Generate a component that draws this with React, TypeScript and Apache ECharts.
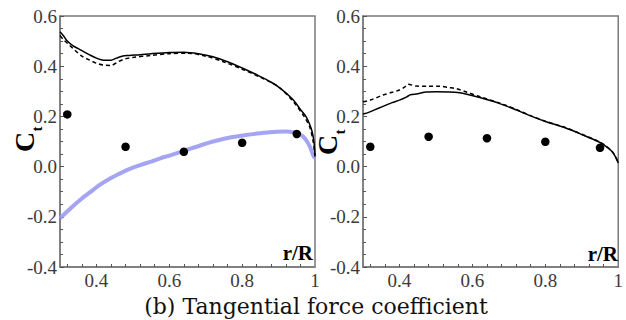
import React, { useEffect, useRef } from "react";
import * as echarts from "echarts";

// radial stations of the measured points (r/R)
const stations = [0.32, 0.48, 0.64, 0.8, 0.95];
const leftMeasured = [0.208, 0.079, 0.059, 0.095, 0.13];
const rightMeasured = [0.079, 0.119, 0.113, 0.099, 0.075];

const leftSolid: number[][] = [
  [0.3, 0.537], [0.31, 0.52], [0.32, 0.5], [0.335, 0.482], [0.35, 0.47], [0.365, 0.458],
  [0.38, 0.446], [0.4, 0.432], [0.42, 0.424], [0.44, 0.424], [0.455, 0.432], [0.47, 0.44],
  [0.49, 0.443], [0.52, 0.446], [0.55, 0.45], [0.6, 0.455], [0.64, 0.456], [0.68, 0.45],
  [0.72, 0.438], [0.76, 0.418], [0.8, 0.393], [0.84, 0.366], [0.88, 0.336], [0.91, 0.306],
  [0.94, 0.266], [0.96, 0.228], [0.975, 0.2], [0.985, 0.17], [0.992, 0.14], [0.997, 0.1], [1.0, 0.045],
];
const leftDashed: number[][] = [
  [0.3, 0.522], [0.31, 0.505], [0.325, 0.485], [0.34, 0.465], [0.36, 0.44], [0.38, 0.425],
  [0.4, 0.412], [0.42, 0.404], [0.44, 0.403], [0.46, 0.418], [0.48, 0.43], [0.5, 0.435],
  [0.55, 0.443], [0.6, 0.45], [0.65, 0.452], [0.7, 0.44], [0.75, 0.417], [0.8, 0.388],
  [0.85, 0.356], [0.9, 0.318], [0.94, 0.26], [0.97, 0.2], [0.985, 0.16], [0.995, 0.1], [1.0, 0.04],
];
const leftBlue: number[][] = [
  [0.3, -0.206], [0.33, -0.165], [0.355, -0.133], [0.38, -0.105], [0.41, -0.072], [0.44, -0.045],
  [0.465, -0.027], [0.49, -0.01], [0.52, 0.006], [0.55, 0.02], [0.575, 0.033], [0.6, 0.044],
  [0.63, 0.058], [0.67, 0.077], [0.72, 0.1], [0.77, 0.117], [0.81, 0.126], [0.85, 0.133],
  [0.895, 0.139], [0.92, 0.14], [0.94, 0.137], [0.955, 0.13], [0.968, 0.119], [0.978, 0.1],
  [0.986, 0.079], [0.995, 0.045], [1.0, 0.035],
];
const rightSolid: number[][] = [
  [0.3, 0.21], [0.31, 0.213], [0.33, 0.225], [0.355, 0.24], [0.38, 0.255], [0.4, 0.265],
  [0.42, 0.278], [0.43, 0.286], [0.45, 0.29], [0.473, 0.297], [0.5, 0.298], [0.537, 0.297],
  [0.56, 0.295], [0.582, 0.289], [0.62, 0.275], [0.673, 0.252], [0.72, 0.226], [0.763, 0.2],
  [0.8, 0.18], [0.856, 0.154], [0.9, 0.128], [0.946, 0.099], [0.965, 0.082], [0.981, 0.063],
  [0.992, 0.04], [1.0, 0.015],
];
const rightDashed: number[][] = [
  [0.3, 0.258], [0.32, 0.265], [0.355, 0.285], [0.38, 0.296], [0.4, 0.305], [0.415, 0.318],
  [0.423, 0.328], [0.446, 0.321], [0.48, 0.32], [0.51, 0.32], [0.535, 0.315], [0.555, 0.311],
  [0.582, 0.298], [0.62, 0.279], [0.673, 0.254], [0.72, 0.228], [0.763, 0.201], [0.8, 0.181],
  [0.856, 0.155], [0.9, 0.129], [0.946, 0.1], [0.965, 0.083], [0.981, 0.064], [0.992, 0.041], [1.0, 0.016],
];

const xLabels = [0.4, 0.6, 0.8, 1];
const xTicks = [0.32, 0.36, 0.4, 0.44, 0.48, 0.52, 0.56, 0.6, 0.64, 0.68, 0.72, 0.76, 0.8, 0.84, 0.88, 0.92, 0.96];
const caption = "(b) Tangential force coefficient";

const SERIF = "'Liberation Serif', 'Times New Roman', Times, serif";
const FRAME = "#7a7a7a";

function xAxis(gridIndex: number) {
  return {
    gridIndex,
    type: "value",
    min: 0.3,
    max: 1,
    axisLine: { show: true, onZero: false, lineStyle: { color: FRAME, width: 1.5 } },
    axisTick: { show: true, inside: true, length: 3, customValues: xTicks, lineStyle: { color: "#555" } },
    axisLabel: {
      customValues: xLabels,
      formatter: (v: number) => (v === 1 ? "1" : v.toFixed(1)),
      fontFamily: SERIF,
      fontSize: 19,
      color: "#3a3a3a",
      margin: 4,
    },
    splitLine: { show: false },
  };
}
function yAxis(gridIndex: number) {
  return {
    gridIndex,
    type: "value",
    min: -0.4,
    max: 0.6,
    interval: 0.2,
    axisLine: { show: true, onZero: false, lineStyle: { color: FRAME, width: 1.5 } },
    axisTick: { show: true, inside: true, length: 4, lineStyle: { color: "#555" } },
    minorTick: { show: true, splitNumber: 4, length: 3, lineStyle: { color: "#555" } },
    axisLabel: {
      formatter: (v: number) => v.toFixed(1),
      fontFamily: SERIF,
      fontSize: 19,
      color: "#3a3a3a",
      margin: 3,
    },
    splitLine: { show: false },
    minorSplitLine: { show: false },
  };
}

function lineSeries(data: number[][], idx: number, dashed: boolean) {
  return {
    type: "line",
    xAxisIndex: idx,
    yAxisIndex: idx,
    data,
    showSymbol: false,
    smooth: 0.3,
    lineStyle: { color: "#000", width: 1.5, type: dashed ? [4, 3] : "solid" },
    z: 3,
  };
}

export default function App() {
  const ref = useRef<HTMLDivElement>(null);
  useEffect(() => {
    if (!ref.current) return;
    const chart = echarts.init(ref.current, undefined, { renderer: "svg" });
    const ctLabel = (cx: number, cy: number, tx: number, ty: number) => [
      {
        type: "text",
        x: cx,
        y: cy,
        rotation: Math.PI / 2,
        style: { text: "C", font: `bold 28px ${SERIF}`, fill: "#000", textAlign: "center", textVerticalAlign: "middle" },
      },
      {
        type: "text",
        x: tx,
        y: ty,
        rotation: Math.PI / 2,
        style: { text: "t", font: `bold 15px ${SERIF}`, fill: "#000", textAlign: "center", textVerticalAlign: "middle" },
      },
    ];
    chart.setOption({
      animation: false,
      backgroundColor: "#fff",
      grid: [
        { left: 60, top: 16, width: 255, height: 251, show: true, borderColor: FRAME, borderWidth: 1.5, backgroundColor: "transparent" },
        { left: 363, top: 16, width: 257, height: 251, show: true, borderColor: FRAME, borderWidth: 1.5, backgroundColor: "transparent" },
      ],
      xAxis: [xAxis(0), xAxis(1)],
      yAxis: [yAxis(0), yAxis(1)],
      series: [
        {
          type: "line",
          xAxisIndex: 0,
          yAxisIndex: 0,
          data: leftBlue,
          showSymbol: false,
          smooth: 0.4,
          lineStyle: { color: "#9a9af2", width: 4, opacity: 0.9 },
          z: 2,
        },
        lineSeries(leftSolid, 0, false),
        lineSeries(leftDashed, 0, true),
        lineSeries(rightSolid, 1, false),
        lineSeries(rightDashed, 1, true),
        {
          type: "scatter",
          xAxisIndex: 0,
          yAxisIndex: 0,
          data: stations.map((x, i) => [x, leftMeasured[i]]),
          symbolSize: 8.5,
          itemStyle: { color: "#000", opacity: 1 },
          z: 4,
        },
        {
          type: "scatter",
          xAxisIndex: 1,
          yAxisIndex: 1,
          data: stations.map((x, i) => [x, rightMeasured[i]]),
          symbolSize: 8.5,
          itemStyle: { color: "#000", opacity: 1 },
          z: 4,
        },
      ],
      graphic: [
        ...ctLabel(24, 142, 37, 129),
        ...ctLabel(327, 145, 340, 132),
        {
          type: "text",
          x: 313,
          y: 263,
          style: { text: "r/R", font: `bold 21px ${SERIF}`, fill: "#000", textAlign: "right", textVerticalAlign: "bottom" },
        },
        {
          type: "text",
          x: 618,
          y: 264,
          style: { text: "r/R", font: `bold 21px ${SERIF}`, fill: "#000", textAlign: "right", textVerticalAlign: "bottom" },
        },
        {
          type: "text",
          x: 316,
          y: 306,
          style: { text: caption, font: `22px "DejaVu Serif", serif`, fill: "#111", textAlign: "center", textVerticalAlign: "middle" },
        },
      ],
    });
    return () => chart.dispose();
  }, []);
  return (
    <div
      ref={ref}
      style={{ position: "absolute", left: 0, top: 0, width: 626, height: 320, background: "#fff" }}
    />
  );
}
